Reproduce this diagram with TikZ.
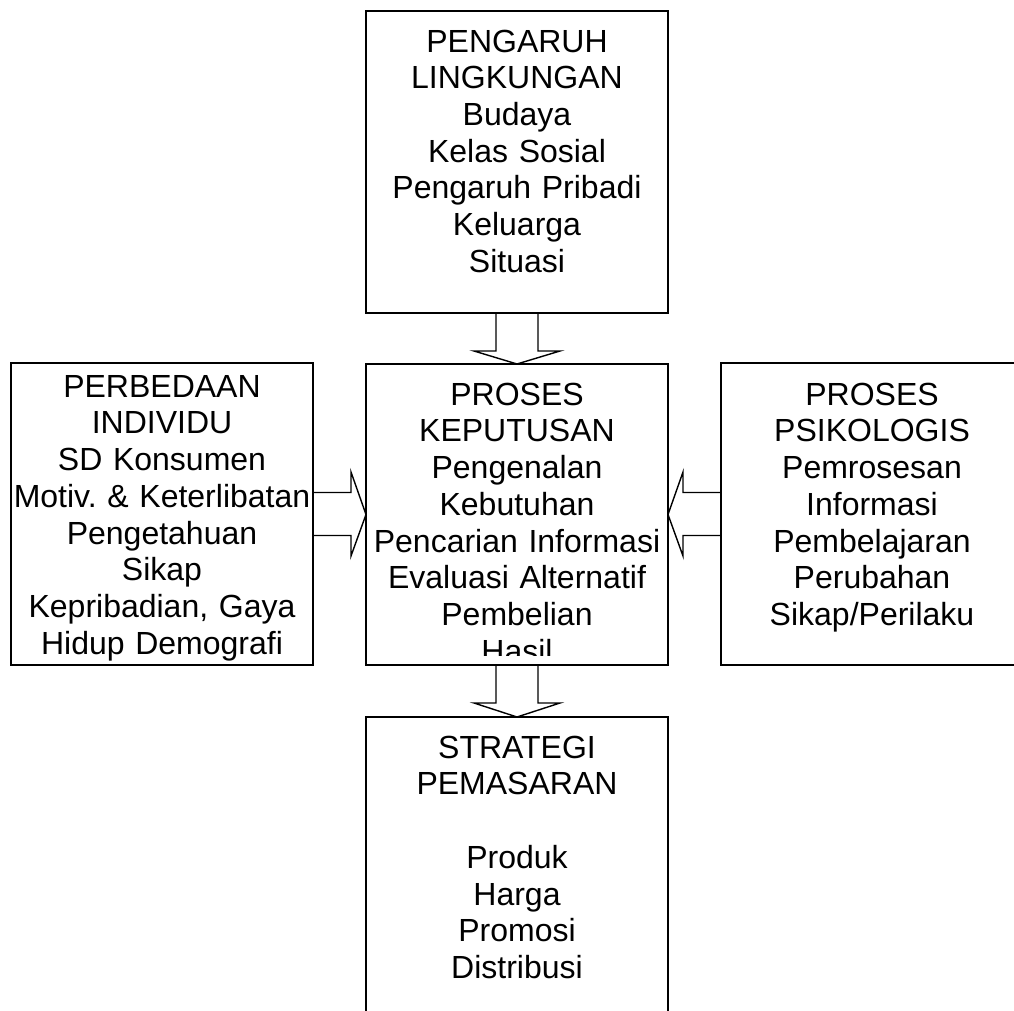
\documentclass[tikz,border=0pt]{standalone}
\usepackage{fontspec}
\setmainfont{Liberation Sans}
\usetikzlibrary{calc}
\frenchspacing
\begin{document}
\begin{tikzpicture}[x=1pt,y=-1pt,
  box/.style={draw,line width=1.5pt,minimum width=302pt,minimum height=302pt,inner sep=0pt,outer sep=0pt},
  label/.style={anchor=north,inner sep=0pt,text width=340pt,align=center,
    font={\fontsize{32}{36.7}\selectfont}},
  blockarrow/.style={draw,line width=1.4pt,line join=miter}]
\useasboundingbox (0,0) rectangle (1014,1011);
\clip (0,0) rectangle (1014,1011);

% frames
\node[box] (top) at (517,162) {};
\node[box,minimum height=301pt] (mid) at (517,514.5) {};
\node[box] (left) at (162,514) {};
\node[box] (right) at (872,514) {};
\node[box] (bot) at (517,868) {};

% texts
\node[label] (toptext) at (517,26) {\rule{0pt}{26pt}PENGARUH\\LINGKUNGAN\\Budaya\\Kelas Sosial\\Pengaruh Pribadi\\Keluarga\\Situasi};
\begin{scope}
  \clip (mid.north west) rectangle ($(mid.south east)+(0,-10)$);
  \node[label] (midtext) at (517,379) {\rule{0pt}{26pt}PROSES\\KEPUTUSAN\\Pengenalan\\Kebutuhan\\Pencarian Informasi\\Evaluasi Alternatif\\Pembelian\\Hasil};
\end{scope}
\node[label] (lefttext) at (162,371) {\rule{0pt}{26pt}PERBEDAAN\\INDIVIDU\\SD Konsumen\\Motiv. \& Keterlibatan\\Pengetahuan\\Sikap\\Kepribadian, Gaya\\Hidup Demografi};
\node[label] (righttext) at (872,379) {\rule{0pt}{26pt}PROSES\\PSIKOLOGIS\\Pemrosesan\\Informasi\\Pembelajaran\\Perubahan\\Sikap/Perilaku};
\node[label] (bottext) at (517,732) {\rule{0pt}{26pt}STRATEGI\\PEMASARAN\\\mbox{}\\Produk\\Harga\\Promosi\\Distribusi};

% block arrows
\draw[blockarrow] ($(top.south)+(-21,0)$) -- ++(0,38) -- ++(-22,0) -- (mid.north)
  -- ($(top.south)+(43,38)$) -- ++(-22,0) -- ++(0,-38);
\draw[blockarrow] ($(mid.south)+(-21,0)$) -- ++(0,38) -- ++(-22,0) -- (bot.north)
  -- ($(mid.south)+(43,38)$) -- ++(-22,0) -- ++(0,-38);
\draw[blockarrow] ($(left.east)+(0,-21.5)$) -- ++(38,0) -- ++(0,-20.5) -- (mid.west)
  -- ($(left.east)+(38,42)$) -- ++(0,-20.5) -- ++(-38,0);
\draw[blockarrow] ($(right.west)+(0,-21.5)$) -- ++(-38,0) -- ++(0,-20.5) -- (mid.east)
  -- ($(right.west)+(-38,42)$) -- ++(0,-20.5) -- ++(38,0);
\end{tikzpicture}
\end{document}
